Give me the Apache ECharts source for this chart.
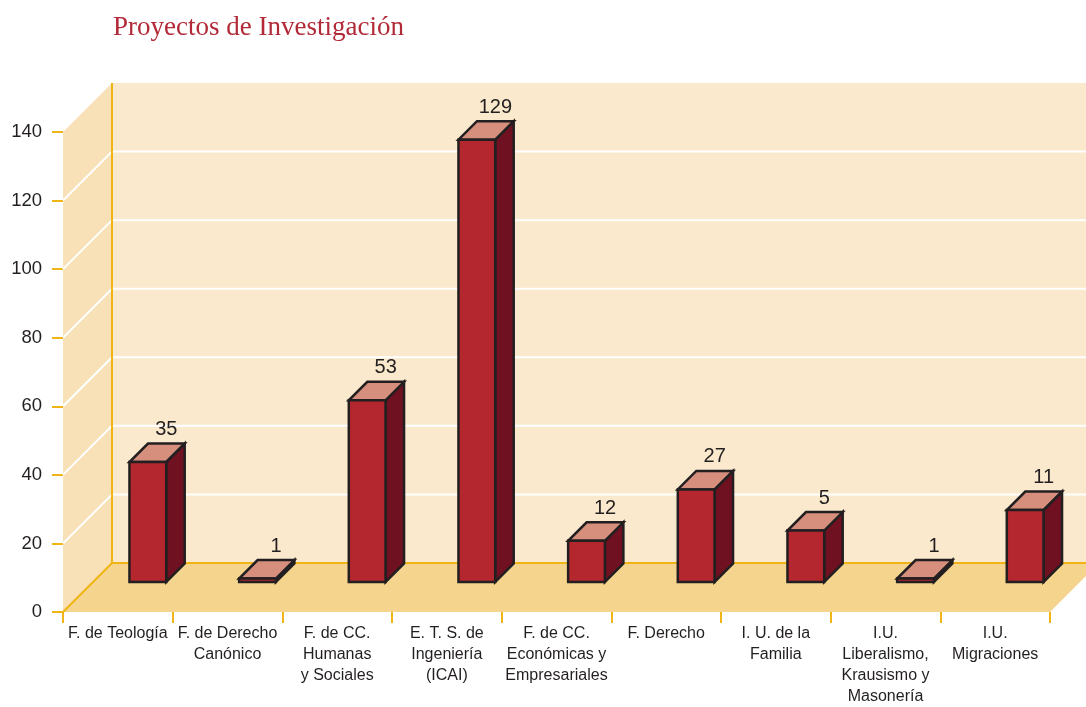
<!DOCTYPE html>
<html>
	<head>
		<meta charset="utf-8">
		<title>Proyectos de Investigación</title>
		<style type="text/css">
			html, body {
				margin: 0;
				padding: 0;
				background: #ffffff;
			}
			#main {
				width: 1086px;
				height: 707px;
			}
		</style>
	</head>
	<body>
		<div id="main"></div>
		<script src="https://cdn.jsdelivr.net/npm/echarts@6/dist/echarts.min.js" type="text/javascript"></script>
		<script type="text/javascript">
			// categorías (los saltos de línea son los del original)
			var categories = ['F. de Teología', 'F. de Derecho\nCanónico', 'F. de CC.\nHumanas\ny Sociales',
				'E. T. S. de\nIngeniería\n(ICAI)', 'F. de CC.\nEconómicas y\nEmpresariales', 'F. Derecho',
				'I. U. de la\nFamilia', 'I.U.\nLiberalismo,\nKrausismo y\nMasonería', 'I.U.\nMigraciones'
			];
			// altura dibujada de cada barra
			var barHeights = [35, 1, 53, 129, 12, 27, 15, 1, 21];
			// etiqueta que aparece encima de cada barra
			var valueLabels = ['35', '1', '53', '129', '12', '27', '5', '1', '11'];
			var yMax = 140;
			var gridValues = [20, 40, 60, 80, 100, 120];

			var DEPTH = 49; // profundidad del suelo en px
			var ORANGE = '#F0B414';

			var myChart = echarts.init(document.getElementById('main'));

			// paredes, suelo y líneas de rejilla
			function renderWalls(params, api) {
				var cs = params.coordSys;
				var x0 = cs.x, x1 = cs.x + cs.width;
				var yB = api.coord([0, 0])[1];
				var yT = api.coord([0, yMax])[1];
				var D = DEPTH;
				var children = [];
				children.push({
					type: 'polygon',
					shape: { points: [[x0, yB], [x0 + D, yB - D], [x0 + D, yT - D], [x0, yT]] },
					style: { fill: '#F8E1B7' }
				});
				children.push({
					type: 'rect',
					shape: { x: x0 + D, y: yT - D, width: x1 - x0 + 10, height: yB - yT },
					style: { fill: '#FAE9CC' }
				});
				children.push({
					type: 'polygon',
					shape: { points: [[x0, yB], [x1, yB], [x1 + D, yB - D], [x0 + D, yB - D]] },
					style: { fill: '#F5D48E' }
				});
				gridValues.forEach(function(v) {
					var y = api.coord([0, v])[1];
					children.push({
						type: 'polyline',
						shape: { points: [[x0, y], [x0 + D, y - D], [x1 + D, y - D]] },
						style: { stroke: '#ffffff', lineWidth: 2, fill: null }
					});
				});
				children.push({
					type: 'polyline',
					shape: { points: [[x0, yB], [x0 + D, yB - D], [x1 + D, yB - D]] },
					style: { stroke: ORANGE, lineWidth: 2, fill: null }
				});
				children.push({
					type: 'line',
					shape: { x1: x0 + D, y1: yB - D, x2: x0 + D, y2: yT - D },
					style: { stroke: ORANGE, lineWidth: 2 }
				});
				return { type: 'group', children: children };
			}

			// barra en 3D: cara frontal, lateral y superior
			function renderBar(params, api) {
				var i = api.value(0), v = api.value(1);
				var top = api.coord([i, v]);
				var base = api.coord([i, 0]);
				var w = api.size([1, 0])[0] * 0.335;
				var F = 30, d = 18.5;
				var cx = top[0] + F;
				var T = top[1] - F, B = base[1] - F;
				var L = cx - w / 2, R = cx + w / 2;
				var line = { stroke: '#231F20', lineWidth: 2.5, lineJoin: 'miter' };
				return {
					type: 'group',
					children: [{
						type: 'polygon',
						shape: { points: [[R, T], [R + d, T - d], [R + d, B - d], [R, B]] },
						style: Object.assign({ fill: '#701121' }, line)
					}, {
						type: 'polygon',
						shape: { points: [[L, T], [R, T], [R + d, T - d], [L + d, T - d]] },
						style: Object.assign({ fill: '#D58F7C' }, line)
					}, {
						type: 'rect',
						shape: { x: L, y: T, width: w, height: B - T },
						style: Object.assign({ fill: '#B5272F' }, line)
					}, {
						type: 'text',
						x: cx + d,
						y: T - d - 4,
						style: {
							text: valueLabels[params.dataIndex],
							fill: '#231F20',
							font: '20px "Liberation Sans", Arial, sans-serif',
							align: 'center',
							verticalAlign: 'bottom'
						}
					}]
				};
			}

			var barData = barHeights.map(function(h, i) {
				return [i, h];
			});

			option = {
				animation: false,
				backgroundColor: '#ffffff',
				title: {
					text: 'Proyectos de Investigación',
					left: 108,
					top: 9,
					textStyle: {
						fontFamily: 'Liberation Serif',
						fontSize: 27,
						fontWeight: 'normal',
						color: '#B22A38'
					}
				},
				grid: {
					left: 63,
					right: 36,
					top: 132,
					bottom: 93
				},
				xAxis: {
					type: 'category',
					data: categories,
					axisLine: { show: false },
					axisTick: {
						show: true,
						length: 11,
						lineStyle: { color: ORANGE, width: 2 }
					},
					axisLabel: {
						interval: 0,
						margin: 11,
						fontSize: 16,
						lineHeight: 21,
						color: '#231F20',
						fontFamily: 'Liberation Sans'
					},
					splitLine: { show: false }
				},
				yAxis: {
					type: 'value',
					min: 0,
					max: yMax,
					interval: 20,
					axisLine: { show: false },
					axisTick: {
						show: true,
						length: 11,
						lineStyle: { color: ORANGE, width: 2 }
					},
					axisLabel: {
						margin: 21,
						fontSize: 18.5,
						color: '#231F20',
						fontFamily: 'Liberation Sans'
					},
					splitLine: { show: false }
				},
				series: [{
					type: 'custom',
					name: 'fondo',
					z: 1,
					silent: true,
					data: [[0, 0]],
					renderItem: renderWalls
				}, {
					type: 'custom',
					name: 'Proyectos',
					z: 2,
					data: barData,
					renderItem: renderBar
				}]
			};
			myChart.setOption(option);
		</script>
	</body>
</html>
